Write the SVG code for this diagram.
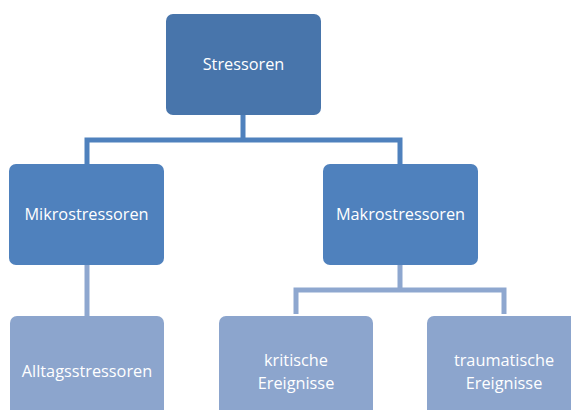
<svg xmlns="http://www.w3.org/2000/svg" width="571" height="410" viewBox="0 0 571 410">
<style>
.t{font-family:"Open Sans","Liberation Sans",Arial,sans-serif;font-size:16.3px;fill:#ffffff;text-anchor:middle}
.c1{stroke:#4F81BD;stroke-width:5;fill:none}
.c2{stroke:#8EA7CF;stroke-width:5;fill:none}
</style>
<rect width="571" height="410" fill="#ffffff"/>
<g id="connectors">
<path class="c1" d="M243 115 V140 M87 164 V140 H400 V164"/>
<path class="c2" d="M87 265 V316"/>
<path class="c2" d="M400 265 V290 M296 314 V290 H504 V314"/>
</g>
<g id="stressoren">
<rect x="166" y="14" width="155" height="101" rx="7" fill="#4875AB"/>
<text class="t" x="243.5" y="70">Stressoren</text>
</g>
<g id="mikro">
<rect x="9" y="164" width="155" height="101" rx="7" fill="#4F81BD"/>
<text class="t" x="86.5" y="220">Mikrostressoren</text>
</g>
<g id="makro">
<rect x="323" y="164" width="155" height="101" rx="7" fill="#4F81BD"/>
<text class="t" x="400.5" y="220">Makrostressoren</text>
</g>
<g id="alltags">
<rect x="10" y="316" width="154" height="110" rx="7" fill="#8CA5CD"/>
<text class="t" x="87" y="377">Alltagsstressoren</text>
</g>
<g id="kritisch">
<rect x="219" y="316" width="154" height="110" rx="7" fill="#8CA5CD"/>
<text class="t" x="296" y="366">kritische</text>
<text class="t" x="296" y="389">Ereignisse</text>
</g>
<g id="traumatisch">
<rect x="427" y="316" width="154" height="110" rx="7" fill="#8CA5CD"/>
<text class="t" x="504" y="366">traumatische</text>
<text class="t" x="504" y="389">Ereignisse</text>
</g>
</svg>
